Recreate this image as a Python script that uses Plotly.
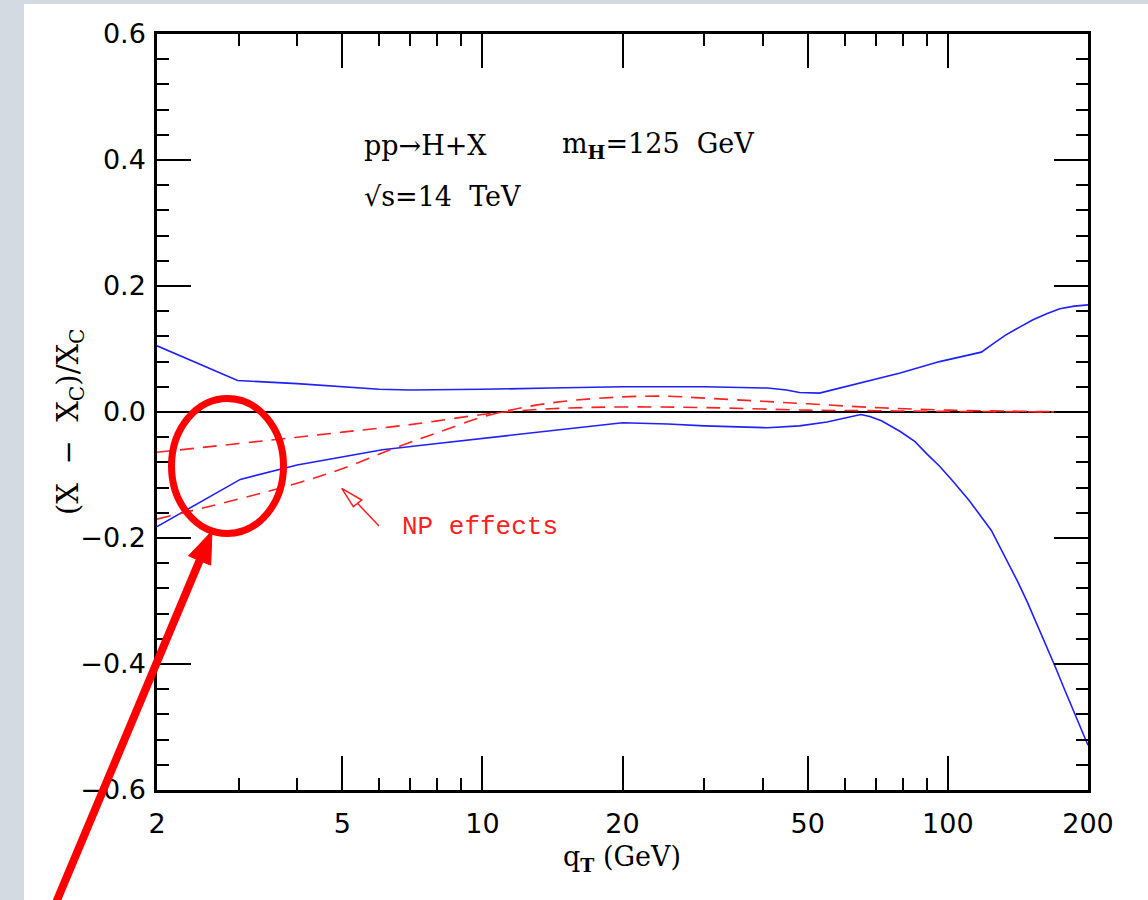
import plotly.graph_objects as go

# ---------------- data ----------------
upper_x = [2, 2.98, 4, 5, 6.0, 7.0, 8, 10, 14, 20, 30, 41, 45, 48, 53, 65, 79, 96, 118,
           125, 133, 142, 152, 163, 174, 187, 200]
upper_y = [0.105, 0.050, 0.045, 0.040, 0.036, 0.035, 0.035, 0.036, 0.038, 0.040, 0.040, 0.038,
           0.035, 0.031, 0.030, 0.046, 0.062, 0.080, 0.095,
           0.108, 0.122, 0.134, 0.146, 0.156, 0.164, 0.168, 0.170]

lower_x = [2, 3.02, 4, 5, 6.1, 8, 10, 14, 17, 20, 25, 30, 41, 48, 55, 60, 65, 68, 72, 79,
           85, 90, 96, 102, 111, 124, 132, 141, 148, 155, 162, 170, 178, 186, 193, 200]
lower_y = [-0.182, -0.107, -0.084, -0.071, -0.060, -0.050, -0.042, -0.030, -0.022, -0.017,
           -0.019, -0.022, -0.025, -0.022, -0.016, -0.010, -0.004, -0.007, -0.014, -0.031,
           -0.047, -0.066, -0.086, -0.108, -0.140, -0.188, -0.226, -0.268, -0.301, -0.335,
           -0.368, -0.404, -0.440, -0.474, -0.502, -0.529]

npA_x = [2, 3, 4, 5, 7, 10, 12, 15, 20, 30, 50, 70, 100, 200]
npA_y = [-0.064, -0.050, -0.040, -0.032, -0.020, -0.004, 0.002, 0.006, 0.008, 0.007,
         0.003, 0.002, 0.001, 0.0]

npB_x = [2, 3, 4, 5, 6.6, 8, 10, 12, 15, 20, 25, 30, 40, 50, 70, 100, 150, 200]
npB_y = [-0.170, -0.138, -0.113, -0.090, -0.055, -0.033, -0.008, 0.006, 0.017, 0.024,
         0.025, 0.022, 0.017, 0.013, 0.007, 0.003, 0.001, 0.0]

x_major = [2, 5, 10, 20, 50, 100, 200]
x_major_text = ["2", "5", "10", "20", "50", "100", "200"]
x_minor = [3, 4, 6, 7, 8, 9, 30, 40, 60, 70, 80, 90]
y_major = [-0.6, -0.4, -0.2, 0.0, 0.2, 0.4, 0.6]
y_minor = [-0.56, -0.52, -0.48, -0.44, -0.36, -0.32, -0.28, -0.24, -0.16, -0.12, -0.08, -0.04,
           0.04, 0.08, 0.12, 0.16, 0.24, 0.28, 0.32, 0.36, 0.44, 0.48, 0.52, 0.56]

# ---------------- layout helpers ----------------
W, H = 1148, 900
L, R, T, B = 157, 60, 34, 110
PW, PH = W - L - R, H - T - B


def px(xp):
    return (xp - L) / PW


def py(yp):
    return (H - B - yp) / PH


fig = go.Figure()

fig.add_trace(go.Scatter(x=[2, 200], y=[0, 0], mode="lines",
                         line=dict(color="black", width=2), hoverinfo="skip"))
for xs, ys in [(upper_x, upper_y), (lower_x, lower_y)]:
    fig.add_trace(go.Scatter(x=xs, y=ys, mode="lines",
                             line=dict(color="#1f1fff", width=1.6)))
for xs, ys in [(npA_x, npA_y), (npB_x, npB_y)]:
    fig.add_trace(go.Scatter(x=xs, y=ys, mode="lines",
                             line=dict(color="#ff2020", width=1.6, dash="14px,9px"),
                             line_shape="spline"))

axis_common = dict(showline=True, linecolor="black", linewidth=2.5, mirror="ticks",
                   ticks="inside", ticklen=34, tickwidth=2, tickcolor="black",
                   showgrid=False, zeroline=False)

fig.update_xaxes(type="log", range=[0.30103, 2.30103], tickmode="array",
                 tickvals=x_major, ticktext=x_major_text,
                 minor=dict(tickmode="array", tickvals=x_minor, ticks="inside", ticklen=12,
                            tickwidth=2, tickcolor="black", showgrid=False),
                 tickfont=dict(family="DejaVu Sans", size=27, color="black"),
                 ticklabelstandoff=8,
                 **axis_common)
fig.update_yaxes(range=[-0.6, 0.6], tickmode="array", tickvals=y_major, tickformat=".1f",
                 minor=dict(tickmode="array", tickvals=y_minor, ticks="inside", ticklen=12,
                            tickwidth=2, tickcolor="black", showgrid=False),
                 tickfont=dict(family="DejaVu Sans", size=27, color="black"),
                 ticklabelstandoff=3,
                 **axis_common)

shapes = []
grey = "#d3dae1"
# grey frame at left and top
shapes.append(dict(type="rect", xref="paper", yref="paper", x0=px(0), x1=px(24),
                   y0=py(H), y1=py(0), fillcolor=grey, line_width=0, layer="below"))
shapes.append(dict(type="rect", xref="paper", yref="paper", x0=px(0), x1=px(W),
                   y0=py(4), y1=py(0), fillcolor=grey, line_width=0, layer="below"))

# red ellipse
cx, cy, rx, ry = 227.5, 466, 56, 67.5
shapes.append(dict(type="circle", xref="paper", yref="paper",
                   x0=px(cx - rx), x1=px(cx + rx), y0=py(cy + ry), y1=py(cy - ry),
                   line=dict(color="#ff0000", width=7)))

# big red arrow
tail = (55, 905)
tip = (212, 531)
dx, dy = tip[0] - tail[0], tip[1] - tail[1]
ln = (dx * dx + dy * dy) ** 0.5
ux, uy = dx / ln, dy / ln
hl, hw = 32, 12
bx, by = tip[0] - hl * ux, tip[1] - hl * uy
pxv, pyv = -uy, ux
shapes.append(dict(type="line", xref="paper", yref="paper",
                   x0=px(tail[0]), y0=py(tail[1]), x1=px(bx + 2 * ux), y1=py(by + 2 * uy),
                   line=dict(color="#ff0000", width=8)))
c1 = (bx + hw * pxv, by + hw * pyv)
c2 = (bx - hw * pxv, by - hw * pyv)
shapes.append(dict(type="path", xref="paper", yref="paper",
                   path=f"M {px(tip[0])},{py(tip[1])} L {px(c1[0])},{py(c1[1])} "
                        f"L {px(c2[0])},{py(c2[1])} Z",
                   fillcolor="#ff0000", line=dict(color="#ff0000", width=1)))

# small open-head arrow for "NP effects"
pts = [(379, 526), (357.5, 503.3), (361.7, 500), (341.7, 488.3), (353.3, 506.7)]
P = [(px(a), py(b)) for a, b in pts]
shapes.append(dict(type="path", xref="paper", yref="paper",
                   path=f"M {P[0][0]},{P[0][1]} L {P[1][0]},{P[1][1]} "
                        f"M {P[2][0]},{P[2][1]} L {P[3][0]},{P[3][1]} L {P[4][0]},{P[4][1]} Z",
                   line=dict(color="#ff2020", width=1.5)))

NB = "\u00a0"
serif = dict(family="DejaVu Serif", size=27, color="black")
annotations = [
    dict(text="pp→H+X", x=px(362), y=py(145), xref="paper", yref="paper",
         xanchor="left", yanchor="middle", showarrow=False, font=serif),
    dict(text=f"m<sub><b>H</b></sub>=125{NB}{NB}GeV", x=px(560), y=py(145), xref="paper",
         yref="paper", xanchor="left", yanchor="middle", showarrow=False, font=serif),
    dict(text=f"√s=14{NB}{NB}TeV", x=px(362), y=py(197), xref="paper", yref="paper",
         xanchor="left", yanchor="middle", showarrow=False, font=serif),
    dict(text="NP effects", x=px(400), y=py(527), xref="paper", yref="paper",
         xanchor="left", yanchor="middle", showarrow=False,
         font=dict(family="Liberation Mono", size=26, color="#ff2020")),
    # axis titles
    dict(text=f"(X{NB}{NB}−{NB}{NB}X<sub>C</sub>)/X<sub>C</sub>", x=px(70), y=py(422),
         xref="paper", yref="paper", xanchor="center", yanchor="middle", textangle=-90,
         showarrow=False, font=dict(family="DejaVu Serif", size=29, color="black")),
    dict(text="q<sub><b>T</b></sub> (GeV)", x=px(622), y=py(858), xref="paper", yref="paper",
         xanchor="center", yanchor="middle", showarrow=False,
         font=dict(family="DejaVu Serif", size=27, color="black")),
]

fig.update_layout(width=W, height=H, margin=dict(l=L, r=R, t=T, b=B, pad=0),
                  paper_bgcolor="white", plot_bgcolor="white", showlegend=False,
                  shapes=shapes, annotations=annotations)

fig.write_html("out.html")
